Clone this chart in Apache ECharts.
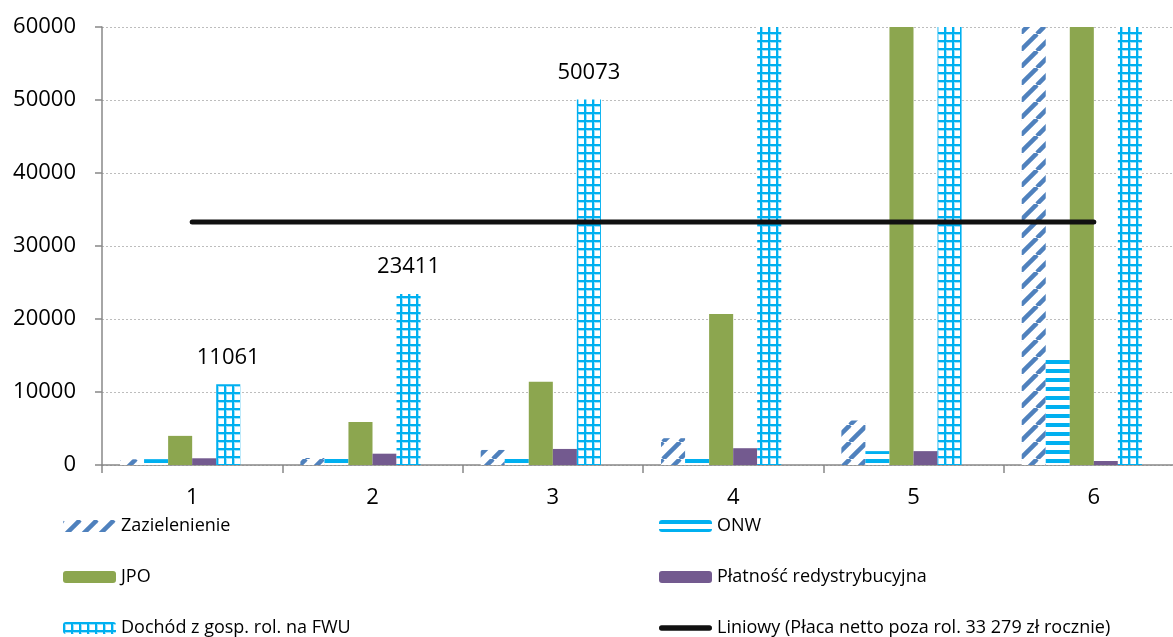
<!DOCTYPE html>
<html><head><meta charset="utf-8">
<script src="https://cdn.jsdelivr.net/npm/echarts@6/dist/echarts.min.js"></script>
<style>html,body{margin:0;padding:0;background:#fff;overflow:hidden}#c{width:1200px;height:637px}</style>
</head><body><div id="c"></div>
<script>
// ---- data ----
const categories = ['1', '2', '3', '4', '5', '6'];
const zazielenienie = [780, 960, 2060, 3670, 6100, 95000];
const onw = [800, 870, 960, 1000, 1900, 14850];
const jpo = [3990, 5900, 11400, 20700, 75000, 190000];
const platnosc = [920, 1550, 2200, 2300, 1900, 550];
const dochod = [11061, 23411, 50073, 90000, 180000, 400000];
const placaNetto = [33279, 33279, 33279, 33279, 33279, 33279];
const yMax = 60000;
const yStep = 10000;
const seriesNames = ['Zazielenienie', 'ONW', 'JPO', 'Płatność redystrybucyjna', 'Dochód z gosp. rol. na FWU', 'Liniowy (Płaca netto poza rol. 33 279 zł rocznie)'];

// ---- patterns ----
function tile(w, h, draw) {
  const c = document.createElement('canvas');
  c.width = w; c.height = h;
  const x = c.getContext('2d');
  x.fillStyle = '#fff'; x.fillRect(0, 0, w, h);
  draw(x);
  return c;
}
const BLUE = '#4F81BD', CYAN = '#00B0F0', GREEN = '#8CA64F', PURPLE = '#735A8F';
const diagTile = tile(17, 17, x => {
  x.strokeStyle = BLUE; x.lineWidth = 4.5;
  [-17, 0, 17].forEach(k => { x.beginPath(); x.moveTo(k, 17); x.lineTo(k + 17, 0); x.stroke(); });
});
const hTile = tile(4, 9, x => { x.fillStyle = CYAN; x.fillRect(0, 0, 4, 4); });
const gridTile = tile(8, 8, x => {
  x.fillStyle = '#9fe0fa'; x.fillRect(0, 0, 3, 8); x.fillRect(0, 0, 8, 3);
  x.fillStyle = CYAN; x.fillRect(0, 0, 2, 8); x.fillRect(0, 0, 8, 2);
});
const pat = c => ({ image: c, repeat: 'repeat' });

const FONT = 'Open Sans';
const chart = echarts.init(document.getElementById('c'), null, { renderer: 'canvas' });
const barBase = { type: 'bar', barGap: '0%', barCategoryGap: '20%' };
const legendBase = {
  orient: 'vertical', itemWidth: 53, itemHeight: 12, itemGap: 33, itemTextGap: 4,
  padding: 0, height: 200, selectedMode: false,
  textStyle: { fontSize: 18, color: '#000', fontFamily: FONT }
};

chart.setOption({
  animation: false,
  backgroundColor: '#fff',
  textStyle: { fontFamily: FONT },
  grid: { left: 102, top: 27, width: 1082, height: 438, containLabel: false },
  xAxis: {
    type: 'category', data: categories,
    axisLine: { lineStyle: { color: '#888', width: 1.5 } },
    axisTick: { show: true, length: 8, lineStyle: { color: '#888', width: 1.5 } },
    axisLabel: { fontSize: 22, color: '#000', margin: 22, fontFamily: FONT }
  },
  yAxis: {
    type: 'value', min: 0, max: yMax, interval: yStep,
    axisLine: { show: true, lineStyle: { color: '#888', width: 1.5 } },
    axisTick: { show: true, length: 7, lineStyle: { color: '#888', width: 1.5 } },
    axisLabel: { fontSize: 22, color: '#000', margin: 26, fontFamily: FONT, formatter: v => String(v) },
    splitLine: { show: true, lineStyle: { color: '#bdbdbd', width: 1, type: [2, 2] } }
  },
  legend: [
    Object.assign({}, legendBase, { left: 63, top: 517, data: [seriesNames[0], seriesNames[2], seriesNames[4]] }),
    Object.assign({}, legendBase, {
      left: 659, top: 517,
      data: [seriesNames[1], seriesNames[3],
        { name: seriesNames[5], icon: 'path://M2.5,0 H47.5 A2.5,2.5 0 0 1 47.5,5 H2.5 A2.5,2.5 0 0 1 2.5,0 Z', itemStyle: { color: '#111' } }]
    })
  ],
  series: [
    Object.assign({}, barBase, { name: seriesNames[0], data: zazielenienie, itemStyle: { color: pat(diagTile) } }),
    Object.assign({}, barBase, { name: seriesNames[1], data: onw, itemStyle: { color: pat(hTile) } }),
    Object.assign({}, barBase, { name: seriesNames[2], data: jpo, itemStyle: { color: GREEN } }),
    Object.assign({}, barBase, { name: seriesNames[3], data: platnosc, itemStyle: { color: PURPLE } }),
    Object.assign({}, barBase, {
      name: seriesNames[4], itemStyle: { color: pat(gridTile) },
      data: dochod.map(v => ({ value: v, label: { show: v <= yMax } })),
      label: { position: 'top', distance: 16, fontSize: 22, color: '#000', fontFamily: FONT }
    }),
    Object.assign({}, barBase, { name: 'placa', data: placaNetto, silent: true, itemStyle: { color: 'rgba(0,0,0,0)' } }),
    {
      type: 'line', name: seriesNames[5], data: placaNetto, symbol: 'none', z: 10,
      itemStyle: { color: '#111' },
      lineStyle: { color: '#111', width: 5, cap: 'round' }
    }
  ]
});
</script></body></html>
